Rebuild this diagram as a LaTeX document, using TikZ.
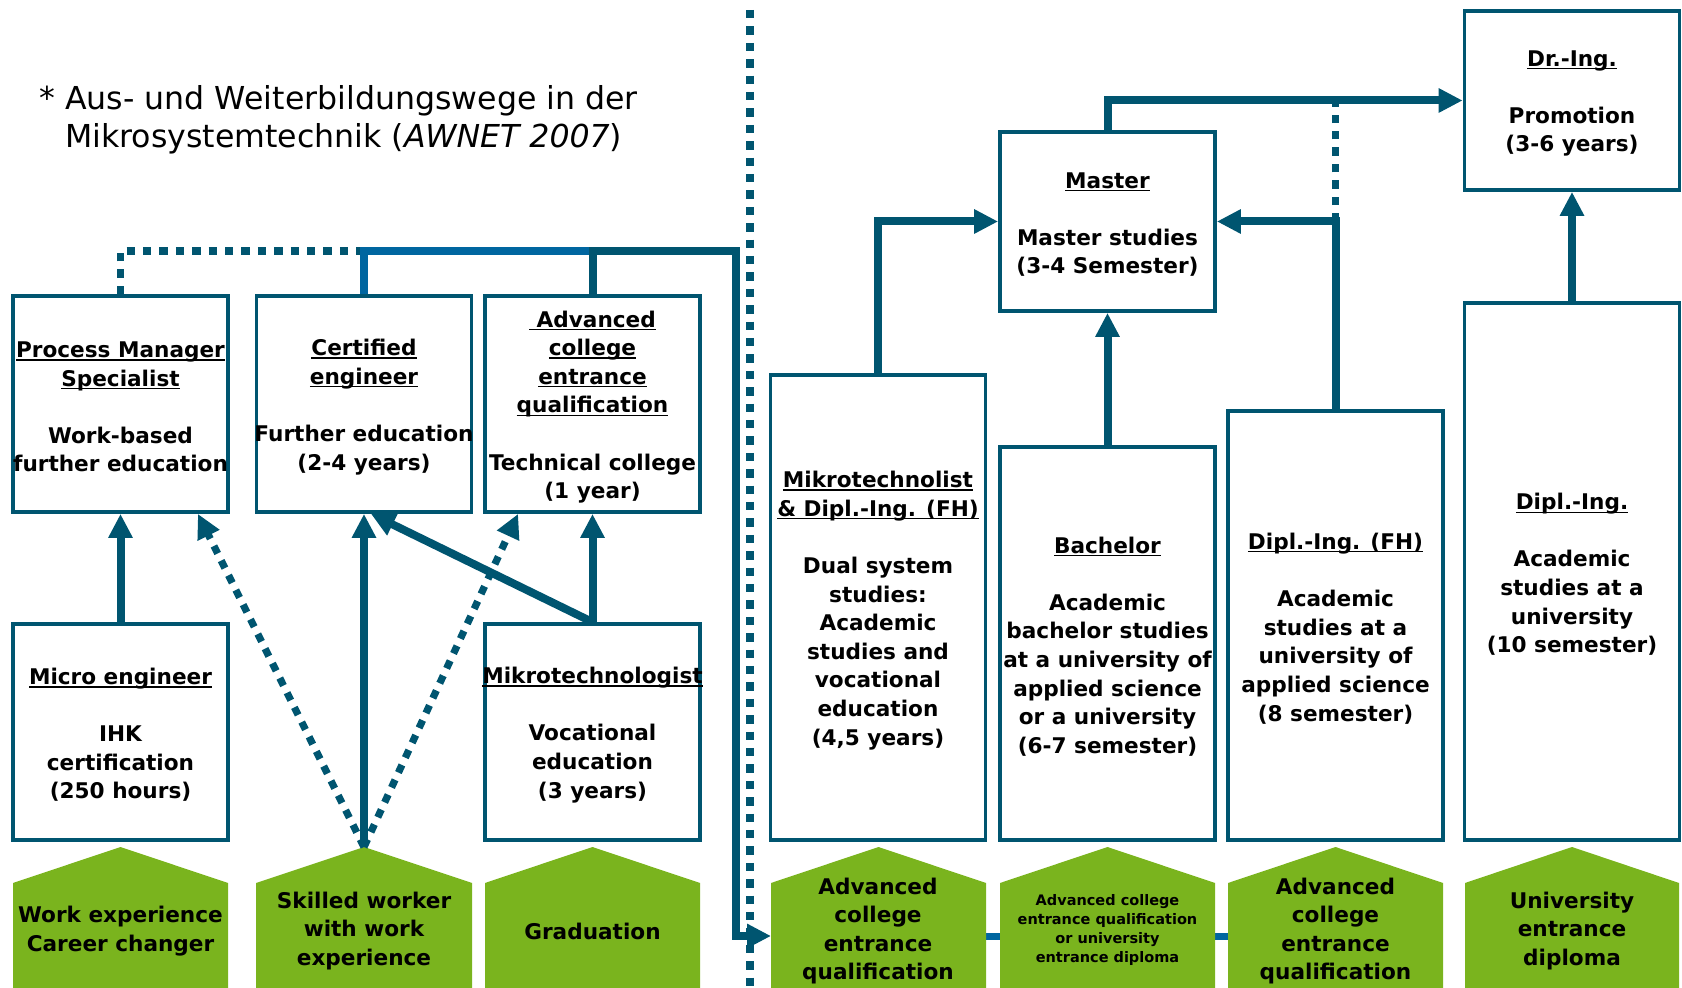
\documentclass[tikz,border=0pt]{standalone}
\usepackage{fontspec}
\setmainfont{DejaVu Sans}
\usetikzlibrary{arrows.meta,calc}

\definecolor{pathblue}{RGB}{0,85,112}
\definecolor{linkblue}{RGB}{0,102,160}
\definecolor{entrygreen}{RGB}{122,180,30}

% underline at a fixed distance below the baseline
\newcommand\uln[1]{\setbox0\hbox{#1}\rlap{\rule[-1.5pt]{\wd0}{0.6pt}}\box0}
\newcommand\blankline{\\[14.3pt]}
% green entry shape: left x, right x
\newcommand\entryshape[2]{\fill[entrygreen] (#1,988) -- (#1,883) -- ({(#1+#2)/2},847) -- (#2,883) -- (#2,988) -- cycle;}

\tikzset{
  box/.style={draw=pathblue, line width=1.9pt, fill=white, inner sep=0pt, minimum width=107.5pt},
  boxtext/.style={align=center, inner sep=0pt, yshift=-1.5pt, font={\fontsize{10.8pt}{14.3pt}\selectfont\bfseries}},
  smalltext/.style={align=center, inner sep=0pt, yshift=-1pt, font={\fontsize{7.25pt}{9.5pt}\selectfont\bfseries}},
  titletext/.style={anchor=base west, inner sep=0pt, font={\fontsize{15.8pt}{19.2pt}\selectfont}},
  link/.style={draw=pathblue, line width=4pt},
  linkarrow/.style={link, -{Triangle[length=12pt,width=11.5pt]}},
  lightlink/.style={draw=linkblue, line width=4pt},
  dotline/.style={draw=pathblue, line width=3.6pt, dash pattern=on 4.2pt off 4pt},
  dotarrow/.style={dotline, -{Triangle[length=12pt,width=11.5pt]}},
}

\begin{document}
\begin{tikzpicture}[x=0.5pt,y=-0.5pt]
\useasboundingbox (0,0) rectangle (1682,988);

% title
\node[titletext] (title1) at (39,110) {* Aus- und Weiterbildungswege in der};
\node[titletext] (title2) at (39,148) {\hphantom{* }Mikrosystemtechnik (\textit{AWNET 2007})};

% divider between vocational and academic paths
\coordinate (sep-top) at (750,10);
\coordinate (sep-bot) at (750,988);
\draw[dotline] (sep-top) -- (sep-bot);

% link behind the academic entry shapes
\coordinate (e4-in) at (771,936);
\coordinate (e6-in) at (1228,936);
\draw[lightlink, line width=3.5pt] (e4-in) -- (e6-in);

% entry requirements
\entryshape{13}{228}
\entryshape{256}{472}
\entryshape{485}{700}
\entryshape{771}{986}
\entryshape{1000}{1215}
\entryshape{1228}{1443}
\entryshape{1465}{1679}
\coordinate (e2-top) at (364,847);

\node[boxtext] (e1) at (120.5,928) {Work experience\\Career changer};
\node[boxtext] (e2) at (364,928) {Skilled worker\\with work\\experience};
\node[boxtext] (e3) at (592.5,928) {Graduation};
\node[boxtext] (e4) at (878,928) {Advanced\\college\\entrance\\qualification};
\node[smalltext] (e5) at (1107.5,928) {Advanced college\\entrance qualification\\or university\\entrance diploma};
\node[boxtext] (e6) at (1335.5,928) {Advanced\\college\\entrance\\qualification};
\node[boxtext] (e7) at (1572,928) {University\\entrance\\diploma};

% vocational boxes
\node[box, minimum height=108pt] (pm) at (120.5,404) {};
\node[box, minimum height=108pt] (ce) at (364,404) {};
\node[box, minimum height=108pt] (ac) at (592.5,404) {};
\node[box, minimum height=108pt] (me) at (120.5,732) {};
\node[box, minimum height=108pt] (mt) at (592.5,732) {};

\node[boxtext] (pm-t) at (pm.center) {\uln{Process Manager}\\\uln{Specialist}\blankline Work-based\\further education};
\node[boxtext] (ce-t) at (ce.center) {\uln{Certified}\\\uln{engineer}\blankline Further education\\(2-4 years)};
\node[boxtext] (ac-t) at (ac.center) {\uln{~Advanced}\\\uln{college}\\\uln{entrance}\\\uln{qualification}\blankline Technical college\\(1 year)};
\node[boxtext] (me-t) at (me.center) {\uln{Micro engineer}\blankline IHK\\certification\\(250 hours)};
\node[boxtext] (mt-t) at (mt.center) {\uln{Mikrotechnologist}\blankline Vocational\\education\\(3 years)};

% academic boxes
\node[box, minimum height=232.5pt] (r1) at (878,607.5) {};
\node[box, minimum height=196.5pt] (r2) at (1107.5,643.5) {};
\node[box, minimum height=214.5pt] (r3) at (1335.5,625.5) {};
\node[box, minimum height=268.5pt] (r4) at (1572,571.5) {};
\node[box, minimum height=89.5pt] (master) at (1107.5,221.5) {};
\node[box, minimum height=89.5pt] (dr) at (1572,100.5) {};

\node[boxtext] (r1-t) at (r1.center) {\uln{Mikrotechnolist}\\\uln{\& Dipl.-Ing. (FH)}\blankline Dual system\\studies:\\Academic\\studies and\\vocational\\education\\(4,5 years)};
\node[boxtext] (r2-t) at (r2.center) {\uln{Bachelor}\blankline Academic\\bachelor studies\\at a university of\\applied science\\or a university\\(6-7 semester)};
\node[boxtext] (r3-t) at (r3.center) {\uln{Dipl.-Ing. (FH)}\blankline Academic\\studies at a\\university of\\applied science\\(8 semester)};
\node[boxtext] (r4-t) at (r4.center) {\uln{Dipl.-Ing.}\blankline Academic\\studies at a\\university\\(10 semester)};
\node[boxtext] (master-t) at (master.center) {\uln{Master}\blankline Master studies\\(3-4 Semester)};
\node[boxtext] (dr-t) at (dr.center) {\uln{Dr.-Ing.}\blankline Promotion\\(3-6 years)};

% upper bus on the vocational side
\coordinate (bus) at (736,251);
\draw[dotline] (pm.north) |- (ce.north |- bus);
\draw[lightlink] (ce.north) |- (ac.north |- bus);
\draw[linkarrow] (ac.north) |- (bus) |- (e4-in);

% vocational connectors
\draw[linkarrow] (me.north) -- (pm.south);
\draw[linkarrow] (e2-top) -- (ce.south);
\draw[dotarrow] (e2-top) -- ($(pm.south east)+(-32,0)$);
\draw[dotarrow] (e2-top) -- ($(ac.south west)+(35,0)$);
\draw[linkarrow] (mt.north) -- (ac.south);
\draw[linkarrow] (mt.north) -- ($(ce.south)+(7,0)$);

% academic connectors
\draw[linkarrow] (r1.north) |- (master.west);
\draw[linkarrow] (r2.north) -- (master.south);
\draw[linkarrow] (r3.north) |- (master.east);
\draw[dotline] (r3.north |- master.east) -- (r3.north |- dr.west);
\draw[linkarrow] (master.north) |- (dr.west);
\draw[linkarrow] (r4.north) -- (dr.south);
\end{tikzpicture}
\end{document}
